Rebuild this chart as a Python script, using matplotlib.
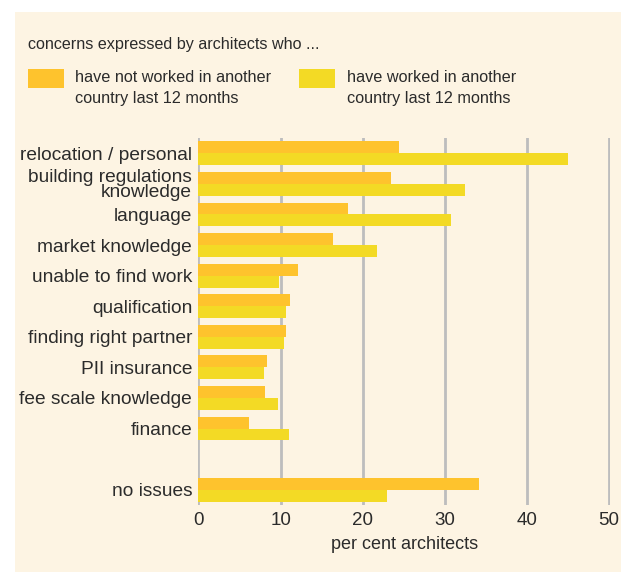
import matplotlib
matplotlib.use("Agg")
import matplotlib.pyplot as plt
from matplotlib.patches import Rectangle
import numpy as np

plt.rcParams['font.family'] = ['Liberation Sans', 'DejaVu Sans']

categories = [
    "relocation / personal",
    "building regulations\nknowledge",
    "language",
    "market knowledge",
    "unable to find work",
    "qualification",
    "finding right partner",
    "PII insurance",
    "fee scale knowledge",
    "finance",
    "no issues",
]
not_worked_abroad = [24.4, 23.4, 18.2, 16.4, 12.1, 11.2, 10.7, 8.4, 8.1, 6.2, 34.1]
worked_abroad = [45.0, 32.4, 30.8, 21.7, 9.8, 10.6, 10.4, 8.0, 9.7, 11.0, 23.0]
positions = [0, 1, 2, 3, 4, 5, 6, 7, 8, 9, 11]
xticks = [0, 10, 20, 30, 40, 50]

series_labels = ["have not worked in another\ncountry last 12 months",
                 "have worked in another\ncountry last 12 months"]
title = "concerns expressed by architects who ..."
xlabel = "per cent architects"

BG = "#FDF4E3"
ORANGE = "#FEC32D"
YELLOW = "#F3DA25"
GRID = "#BDBDBD"
TEXT = "#2B2B2B"

W, H = 621, 572
fig = plt.figure(figsize=(W / 100, H / 100), dpi=100)
fig.patch.set_facecolor("white")

# beige panel behind everything
fig.patches.append(Rectangle((15 / W, 0), 1 - 15 / W, 1 - 12 / H,
                             transform=fig.transFigure, facecolor=BG,
                             edgecolor="none", zorder=-10))

ax_left, ax_right = 198.5, 610
ax_top, ax_bottom = 138, 505
ax = fig.add_axes([ax_left / W, 1 - ax_bottom / H,
                   (ax_right - ax_left) / W, (ax_bottom - ax_top) / H])
ax.set_facecolor("none")
ax.set_zorder(5)

pos = np.array(positions, dtype=float)
bh = 0.39
ax.barh(pos - bh / 2, not_worked_abroad, height=bh, color=ORANGE, zorder=3)
ax.barh(pos + bh / 2, worked_abroad, height=bh, color=YELLOW, zorder=3)

ax.set_xlim(0, 50.1)
ax.set_ylim(11.5, -0.5)
ax.set_xticks(xticks)
ax.set_xticklabels([str(t) for t in xticks], fontsize=13.5, color=TEXT)
for t in xticks:
    ax.axvline(t, color=GRID, lw=2, zorder=1)
ax.set_yticks(positions)
ax.set_yticklabels(categories, fontsize=13.8, color=TEXT, linespacing=0.82)
ax.tick_params(axis="x", length=0, pad=5)
ax.tick_params(axis="y", length=0, pad=4.5)
for s in ax.spines.values():
    s.set_visible(False)
ax.set_xlabel(xlabel, fontsize=13, color=TEXT, labelpad=5)

# header and legend
fig.text(28 / W, 1 - 45 / H, title, fontsize=11.6, color=TEXT, va="center", ha="left")
patch_specs = [(28, ORANGE, 75, series_labels[0]), (299, YELLOW, 347, series_labels[1])]
for px, col, tx, lab in patch_specs:
    fig.patches.append(Rectangle((px / W, 1 - 88 / H), 36 / W, 19 / H,
                                 transform=fig.transFigure, facecolor=col,
                                 edgecolor="none", zorder=2))
    fig.text(tx / W, 1 - 88 / H, lab, fontsize=11.7, color=TEXT,
             va="center", ha="left", linespacing=1.55)

fig.savefig("out.png", dpi=100, facecolor=fig.get_facecolor())
